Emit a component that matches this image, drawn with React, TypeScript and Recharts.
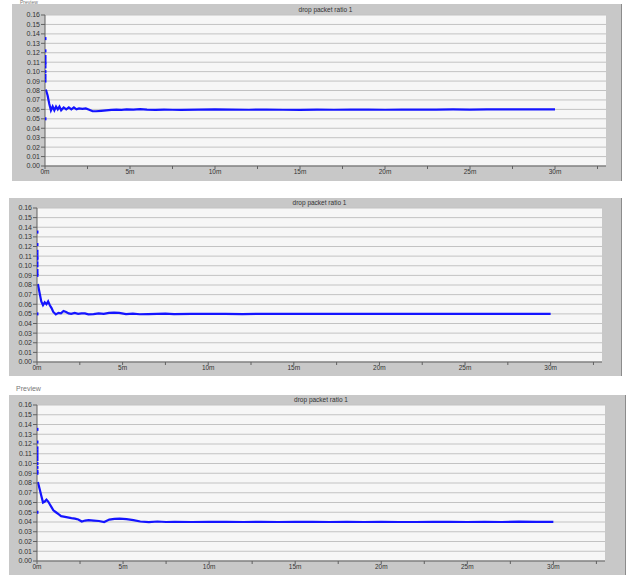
import React from 'react';
import { ComposedChart, Line, Scatter, XAxis, YAxis, CartesianGrid } from 'recharts';

// sample times (minutes)
const TIMES = [
  0.05, 0.15, 0.25, 0.35, 0.45, 0.55, 0.65, 0.75, 0.85, 0.95,
  1.1, 1.25, 1.4, 1.55, 1.7, 1.85, 2.0, 2.2, 2.4, 2.6,
  2.8, 3.0, 3.3, 3.6, 3.9, 4.2, 4.5, 4.8, 5.2, 5.6,
  6.0, 6.5, 7, 7.5, 8, 9, 10, 11, 12, 13,
  14, 15, 16, 17, 18, 19, 20, 21, 22, 23,
  24, 25, 26, 27, 28, 29, 30,
];

const RATIO_1 = [
  0.081, 0.075, 0.066, 0.059, 0.063, 0.059, 0.063, 0.060, 0.063, 0.059,
  0.062, 0.060, 0.062, 0.060, 0.062, 0.060, 0.061, 0.0605, 0.061, 0.0595,
  0.058, 0.058, 0.0585, 0.059, 0.0595, 0.0598, 0.0595, 0.060, 0.0598, 0.0602,
  0.0598, 0.0595, 0.0598, 0.0596, 0.0595, 0.0598, 0.060, 0.0597, 0.0596, 0.0598,
  0.0596, 0.0595, 0.0597, 0.0596, 0.0597, 0.0598, 0.0596, 0.0597, 0.0598, 0.0597,
  0.0599, 0.0598, 0.0601, 0.0599, 0.060, 0.0601, 0.0601,
];

const RATIO_2 = [
  0.081, 0.072, 0.063, 0.059, 0.062, 0.060, 0.063, 0.059, 0.056, 0.052,
  0.0495, 0.051, 0.0505, 0.053, 0.052, 0.0505, 0.050, 0.051, 0.050, 0.0505,
  0.0505, 0.0495, 0.0498, 0.0505, 0.050, 0.051, 0.0512, 0.051, 0.0498, 0.0502,
  0.0496, 0.0498, 0.050, 0.0502, 0.0498, 0.050, 0.0499, 0.0501, 0.0498, 0.050,
  0.0499, 0.050, 0.0499, 0.0501, 0.050, 0.0499, 0.050, 0.0501, 0.0499, 0.050,
  0.0499, 0.050, 0.0501, 0.0499, 0.050, 0.0499, 0.050,
];

const RATIO_3 = [
  0.081, 0.074, 0.067, 0.060, 0.061, 0.063, 0.061, 0.058, 0.055, 0.052,
  0.050, 0.048, 0.046, 0.0455, 0.045, 0.0445, 0.044, 0.0435, 0.0425, 0.0405,
  0.0415, 0.042, 0.0415, 0.041, 0.040, 0.0425, 0.0432, 0.0435, 0.043, 0.042,
  0.0405, 0.0398, 0.0405, 0.040, 0.0402, 0.040, 0.0402, 0.0401, 0.040, 0.0401,
  0.040, 0.0402, 0.0401, 0.040, 0.0401, 0.040, 0.0402, 0.040, 0.040, 0.0401,
  0.0402, 0.040, 0.0401, 0.040, 0.0404, 0.0402, 0.0401,
];

// isolated samples at t = 0
const START_1 = [0.05, 0.09, 0.093, 0.096, 0.1, 0.105, 0.108, 0.11, 0.113, 0.116, 0.122, 0.135];
const START_2 = [0.05, 0.09, 0.092, 0.095, 0.1, 0.103, 0.107, 0.109, 0.112, 0.115, 0.122, 0.135];
const START_3 = [0.05, 0.09, 0.092, 0.096, 0.1, 0.104, 0.107, 0.11, 0.113, 0.116, 0.122, 0.135];

const Y_TICKS = [0, 0.01, 0.02, 0.03, 0.04, 0.05, 0.06, 0.07, 0.08, 0.09, 0.1, 0.11, 0.12, 0.13, 0.14, 0.15, 0.16];
const X_TICKS = [0, 2.5, 5, 7.5, 10, 12.5, 15, 17.5, 20, 22.5, 25, 27.5, 30, 32.5];

const TITLE = 'drop packet ratio 1';
const BLUE = '#1414ff';
const FONT = '"Liberation Sans", Arial, sans-serif';

const Square = (p: any) => (
  <rect x={p.cx - 1.5} y={p.cy - 1.5} width={3} height={3} fill={BLUE} />
);

type PanelProps = {
  left: number; top: number; width: number; height: number;
  yw: number; mt: number; mr: number; xh: number;
  values: number[]; start: number[];
};

const Panel: React.FC<PanelProps> = ({ left, top, width, height, yw, mt, mr, xh, values, start }) => {
  const line = TIMES.map((t, i) => ({ t, v: values[i] }));
  const dots = start.map((v) => ({ t: 0, v }));
  const plotW = width - yw - mr;
  return (
    <div style={{ position: 'absolute', left, top, width, height, background: '#c8c8c8', borderRight: '1px solid #8c8c8c', boxSizing: 'border-box' }}>
      <div style={{ position: 'absolute', left: yw, top: 0, width: plotW, height: mt, lineHeight: `${mt}px`, textAlign: 'center', fontSize: 6.5, color: '#333', fontFamily: FONT }}>
        {TITLE}
      </div>
      <ComposedChart width={width} height={height} margin={{ top: mt, right: mr, bottom: 0, left: 0 }}>
        <CartesianGrid vertical={false} fill="#f6f6f6" stroke="#c2c2c2" />
        <XAxis
          dataKey="t" type="number" domain={[0, 33]} ticks={X_TICKS} interval={0} allowDataOverflow
          height={xh} tickSize={3} tickMargin={0}
          tickFormatter={(v: number) => (v % 5 === 0 ? `${v}m` : '')}
          tick={{ fontSize: 6.5, fill: '#333', fontFamily: FONT }}
          axisLine={{ stroke: '#606060' }} tickLine={{ stroke: '#606060' }}
        />
        <XAxis xAxisId="top" orientation="top" type="number" domain={[0, 33]} height={0} tick={false} tickLine={false} axisLine={{ stroke: '#9a9a9a' }} />
        <YAxis
          type="number" domain={[0, 0.16]} ticks={Y_TICKS} interval={0} width={yw}
          tickSize={4} tickMargin={1}
          tickFormatter={(v: number) => v.toFixed(2)}
          tick={{ fontSize: 7, fill: '#333', fontFamily: FONT }}
          axisLine={{ stroke: '#606060' }} tickLine={{ stroke: '#606060' }}
        />
        <YAxis yAxisId="right" orientation="right" type="number" domain={[0, 0.16]} width={0} tick={false} tickLine={false} axisLine={{ stroke: '#6a6a6a' }} />
        <Line data={line} dataKey="v" stroke={BLUE} strokeWidth={2.2} dot={false} isAnimationActive={false} />
        <Scatter data={dots} dataKey="v" shape={Square} isAnimationActive={false} />
      </ComposedChart>
    </div>
  );
};

export default function App() {
  return (
    <div style={{ position: 'absolute', left: 0, top: 0, width: 629, height: 575, background: '#fff', overflow: 'hidden', fontFamily: FONT }}>
      <Panel left={12} top={4} width={610} height={177} yw={33} mt={11} mr={16} xh={15} values={RATIO_1} start={START_1} />
      <div style={{ position: 'absolute', left: 20, top: 0, fontSize: 5, lineHeight: '5px', color: '#777' }}>Preview</div>
      <Panel left={9} top={198} width={613} height={178} yw={28} mt={10} mr={20} xh={14} values={RATIO_2} start={START_2} />
      <div style={{ position: 'absolute', left: 16, top: 385, fontSize: 7, color: '#777' }}>Preview</div>
      <Panel left={9} top={395} width={617} height={180} yw={28} mt={10} mr={21} xh={14} values={RATIO_3} start={START_3} />
    </div>
  );
}
